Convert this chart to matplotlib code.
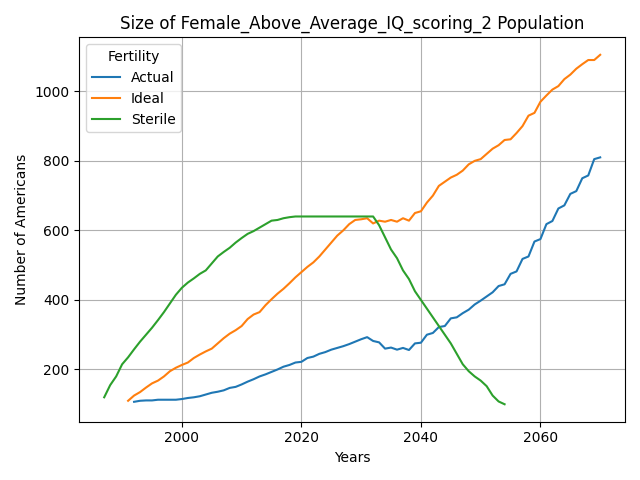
import numpy as np
import matplotlib
matplotlib.use("Agg")
import matplotlib.pyplot as plt

actual_years = np.arange(1992, 2071)
actual = [107, 110, 111, 111, 113, 113, 113, 113, 115, 118, 120, 123, 128, 133, 136, 140,
          147, 150, 157, 165, 172, 180, 186, 193, 200, 208, 213, 220, 222, 233, 237, 245,
          250, 257, 262, 267, 273, 280, 287, 293, 282, 278, 260, 263, 257, 262, 256, 275,
          277, 300, 305, 322, 325, 347, 350, 362, 372, 387, 398, 410, 422, 440, 445, 475,
          482, 518, 525, 568, 575, 618, 627, 663, 672, 705, 713, 750, 758, 805, 810]

ideal_years = np.arange(1991, 2071)
ideal = [110, 125, 135, 148, 160, 168, 180, 195, 205, 213, 220, 233, 243, 252, 260, 275,
         290, 303, 313, 325, 345, 358, 365, 385, 402, 418, 432, 448, 465, 480, 495, 508,
         525, 545, 565, 585, 600, 618, 630, 632, 635, 620, 628, 625, 630, 625, 635, 628,
         650, 655, 680, 700, 728, 740, 752, 760, 772, 790, 800, 805, 820, 835, 845, 860,
         862, 880, 900, 930, 938, 970, 988, 1005, 1015, 1035, 1048, 1065, 1078, 1090, 1105, 1105][:80]

sterile_years = np.arange(1987, 2055)
sterile = [120, 155, 180, 215, 235, 258, 280, 300, 320, 342, 365, 390, 415, 435, 450, 462,
           475, 485, 505, 525, 538, 550, 565, 578, 590, 598, 608, 618, 628, 630, 635, 638,
           640, 640, 640, 640, 640, 640, 640, 640, 640, 640, 640, 640, 640, 640,
           615, 580, 545, 520, 485, 460, 425, 400, 375, 350, 325, 300, 275, 245, 215, 195,
           180, 168, 152, 125, 108, 100]

ideal = ideal[:78] + [1090, 1105]

fig, ax = plt.subplots(figsize=(6.4, 4.8), dpi=100)
ax.plot(actual_years, actual, label='Actual')
ax.plot(ideal_years, ideal, label='Ideal')
ax.plot(sterile_years, sterile, label='Sterile')
ax.grid(True)
ax.legend(title='Fertility', loc='upper left')
ax.set_title("Size of Female_Above_Average_IQ_scoring_2 Population")
ax.set_xlabel("Years")
ax.set_ylabel("Number of Americans")
fig.tight_layout()
fig.savefig("out.png")
